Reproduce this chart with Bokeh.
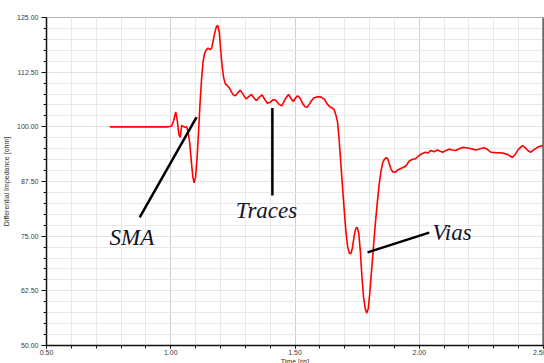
from bokeh.plotting import figure
from bokeh.models import SingleIntervalTicker, NumeralTickFormatter, Span, ColumnDataSource
from bokeh.core.properties import value
from bokeh.embed import file_html
from bokeh.resources import INLINE

# TDR differential impedance trace
time_ns = [
    0.755, 0.990, 1.004, 1.012, 1.020, 1.026, 1.033, 1.038, 1.044, 1.050,
    1.057, 1.064, 1.069, 1.076, 1.083, 1.089, 1.094, 1.100, 1.106, 1.112,
    1.118, 1.124, 1.130, 1.136, 1.143, 1.150, 1.157, 1.164, 1.170, 1.176,
    1.183, 1.189, 1.195, 1.201, 1.207, 1.213, 1.220, 1.228, 1.236, 1.244,
    1.252, 1.260, 1.270, 1.280, 1.292, 1.303, 1.314, 1.325, 1.335, 1.345,
    1.357, 1.368, 1.378, 1.389, 1.400, 1.412, 1.422, 1.435, 1.447, 1.460,
    1.474, 1.484, 1.493, 1.502, 1.510, 1.520, 1.530, 1.540, 1.550, 1.562,
    1.575, 1.590, 1.605, 1.618, 1.630, 1.642, 1.650, 1.657, 1.664, 1.671,
    1.677, 1.684, 1.691, 1.698, 1.705, 1.712, 1.719, 1.725, 1.731, 1.738,
    1.745, 1.751, 1.757, 1.763, 1.769, 1.776, 1.783, 1.789, 1.795, 1.801,
    1.808, 1.815, 1.822, 1.830, 1.838, 1.846, 1.853, 1.859, 1.866, 1.872,
    1.879, 1.886, 1.893, 1.903, 1.915, 1.930, 1.945, 1.960, 1.973, 1.985,
    2.000, 2.013, 2.025, 2.035, 2.047, 2.060, 2.073, 2.085, 2.094, 2.107,
    2.120, 2.133, 2.147, 2.160, 2.174, 2.188, 2.201, 2.215, 2.228, 2.245,
    2.261, 2.275, 2.288, 2.310, 2.335, 2.355, 2.375, 2.385, 2.398, 2.415,
    2.425, 2.437, 2.449, 2.462, 2.478, 2.496,
]
impedance_ohm = [
    100.0, 100.0, 100.2, 101.5, 103.4, 101.5, 98.2, 97.6, 100.3, 100.1,
    99.9, 100.0, 99.1, 96.5, 92.0, 88.5, 87.2, 88.5, 93.0, 99.0,
    105.5, 111.0, 114.8, 116.8, 117.6, 118.0, 117.7, 117.9, 119.5, 121.2,
    122.8, 123.2, 121.8, 117.5, 113.8, 111.2, 109.8, 109.4, 108.9, 108.0,
    107.3, 107.1, 107.8, 108.4, 107.3, 106.4, 106.9, 107.4, 106.6, 106.0,
    106.8, 107.3, 106.3, 105.4, 105.6, 106.2, 106.1, 105.2, 104.8, 106.3,
    107.4, 106.5, 105.8, 106.6, 107.1, 106.6, 105.4, 104.6, 104.5, 105.6,
    106.6, 106.9, 106.8, 106.3, 105.2, 104.5, 104.3, 104.0, 102.8, 101.2,
    97.5, 92.0, 86.5, 81.0, 76.0, 72.5, 71.1, 71.0, 72.3, 75.0,
    76.8, 77.0, 75.5, 71.5, 66.0, 61.0, 58.3, 57.4, 58.5, 62.0,
    67.0, 72.0, 77.0, 82.0, 86.5, 89.8, 91.8, 92.5, 92.9, 92.8,
    91.6, 90.4, 89.7, 89.6, 90.2, 90.6, 91.0, 92.2, 92.6, 92.7,
    93.5, 93.9, 94.2, 94.0, 94.6, 94.3, 94.7, 94.4, 94.2, 94.6,
    94.9, 94.7, 94.6, 95.0, 95.3, 95.2, 95.1, 94.9, 94.7, 95.0,
    95.2, 94.8, 94.2, 94.1, 94.0, 93.7, 93.0, 93.6, 94.8, 95.7,
    95.3, 94.6, 94.2, 94.8, 95.4, 95.7,
]

# Callouts: label, text anchor, leader line start and end
callout_labels = ["SMA", "Traces", "Vias"]
callout_text_x = [0.754, 1.262, 2.053]
callout_text_y = [74.6, 80.9, 75.9]
leader_x0 = [0.875, 1.409, 1.792]
leader_y0 = [79.3, 84.3, 71.3]
leader_x1 = [1.104, 1.409, 2.040]
leader_y1 = [102.2, 104.3, 75.8]

p = figure(
    frame_width=497, frame_height=328,
    x_range=(0.5, 2.5), y_range=(50, 125),
    output_backend="svg", toolbar_location=None,
    min_border_left=44, min_border_right=3, min_border_top=17, min_border_bottom=16,
    background_fill_color="white", border_fill_color="white",
)
p.outline_line_color = "#b4b4b4"
p.outline_line_width = 1

label_font = "Liberation Sans"
for ax in (p.xaxis[0], p.yaxis[0]):
    ax.axis_line_color = "#111111"
    ax.axis_line_width = 1.5
    ax.major_tick_line_color = "#111111"
    ax.minor_tick_line_color = "#111111"
    ax.major_tick_in = 0
    ax.minor_tick_in = 0
    ax.major_label_text_font = label_font
    ax.major_label_text_font_size = "7px"
    ax.major_label_text_color = "#3a3a3a"
    ax.axis_label_text_font = label_font
    ax.axis_label_text_font_size = "7px"
    ax.axis_label_text_font_style = "normal"
    ax.axis_label_text_color = "#333333"
    ax.formatter = NumeralTickFormatter(format="0.00")

p.xaxis[0].ticker = SingleIntervalTicker(interval=0.5, num_minor_ticks=5)
p.yaxis[0].ticker = SingleIntervalTicker(interval=12.5, num_minor_ticks=5)
p.xaxis[0].major_tick_out = 3
p.xaxis[0].minor_tick_out = 3
p.yaxis[0].major_tick_out = 5
p.yaxis[0].minor_tick_out = 3
p.xaxis[0].major_label_standoff = 1
p.xaxis[0].axis_label_standoff = 0
p.yaxis[0].major_label_standoff = 3
p.yaxis[0].axis_label_standoff = 4
p.xaxis.axis_label = "Time [ns]"
p.yaxis.axis_label = "Differential Impedance [ohm]"

p.xgrid.ticker = SingleIntervalTicker(interval=0.5, num_minor_ticks=5)
p.ygrid.ticker = SingleIntervalTicker(interval=12.5, num_minor_ticks=5)
p.xgrid.grid_line_color = "#cfcfcf"
p.xgrid.minor_grid_line_color = "#e9e9e9"
p.ygrid.grid_line_color = "#e2e2e2"
p.ygrid.minor_grid_line_color = "#e9e9e9"

# heavy right-hand frame edge
p.add_layout(Span(location=2.5, dimension="height", line_color="#222222", line_width=2))

p.line(time_ns, impedance_ohm, line_color="#ff0000", line_width=1.6)

leaders = ColumnDataSource(dict(x0=leader_x0, y0=leader_y0, x1=leader_x1, y1=leader_y1))
p.segment("x0", "y0", "x1", "y1", source=leaders, line_color="#000000", line_width=2.5)

labels = ColumnDataSource(dict(x=callout_text_x, y=callout_text_y, t=callout_labels))
p.text("x", "y", text="t", source=labels,
       text_font=value("Liberation Serif"), text_font_style="italic",
       text_font_size="23px", text_color="#141428",
       text_align="left", text_baseline="alphabetic")

open("out.html", "w").write(file_html(p, INLINE))
